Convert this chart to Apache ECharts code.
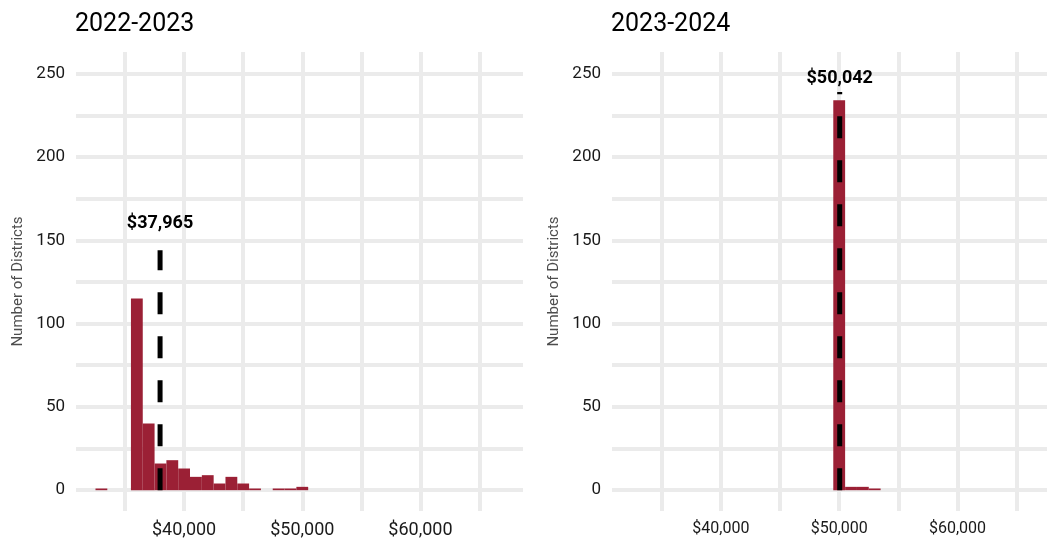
<!DOCTYPE html>
<html><head><meta charset="utf-8">
<script src="https://cdn.jsdelivr.net/npm/echarts@6/dist/echarts.min.js"></script>
<style>html,body{margin:0;padding:0;background:#fff}#c{width:1047px;height:542px}</style>
</head><body><div id="c"></div>
<script>
// ---- data ----
const panelTitles = ['2022-2023', '2023-2024'];
const binWidth = 1000;
const bins2223 = [33000, 34000, 35000, 36000, 37000, 38000, 39000, 40000, 41000, 42000, 43000, 44000, 45000, 46000, 47000, 48000, 49000, 50000];
const counts2223 = [1, 0, 0, 115, 40, 16, 18, 13, 8, 9, 4, 8, 4, 1, 0, 1, 1, 2];
const bins2324 = [50000, 51000, 52000, 53000];
const counts2324 = [234, 2, 2, 1];
const medians = [37965, 50042];
const medianLineTop = [144, 239];
const medianLabelY = [160, 247];
const yGridTicks = [0, 25, 50, 75, 100, 125, 150, 175, 200, 225, 250];
const yLabelTicks = [0, 50, 100, 150, 200, 250];
const xGridTicks = [35000, 40000, 45000, 50000, 55000, 60000, 65000];
const xLabelTicks = [40000, 50000, 60000];
const xRanges = [[30850, 68680], [30800, 67560]];
const yRange = [-12.5, 263];
const yTitle = 'Number of Districts';

// ---- chart ----
const FONT = 'Roboto';
const BAR = '#9b2035';
const GRID = '#ebebeb';
const money = v => '$' + Math.round(v).toLocaleString('en-US');

const chart = echarts.init(document.getElementById('c'), null, {renderer: 'canvas'});

function xAxis(i, fs) {
  return {
    type: 'value', gridIndex: i, min: xRanges[i][0], max: xRanges[i][1],
    axisLine: {show: false},
    axisTick: {show: false, customValues: xGridTicks},
    splitLine: {show: true, lineStyle: {color: GRID, width: 4}},
    axisLabel: {customValues: xLabelTicks, formatter: money, color: '#1a1a1a', fontFamily: FONT, fontSize: fs, margin: 10}
  };
}
function yAxis(i) {
  return {
    type: 'value', gridIndex: i, min: yRange[0], max: yRange[1],
    axisLine: {show: false},
    axisTick: {show: false, customValues: yGridTicks},
    splitLine: {show: true, lineStyle: {color: GRID, width: 4}},
    axisLabel: {customValues: yLabelTicks, color: '#1a1a1a', fontFamily: FONT, fontSize: 17, margin: 11},
    name: yTitle, nameLocation: 'middle', nameGap: 50,
    nameTextStyle: {color: '#4d4d4d', fontFamily: FONT, fontSize: 15}
  };
}
function barSeries(i, bins, counts) {
  return {
    type: 'custom', xAxisIndex: i, yAxisIndex: i, z: 2,
    data: bins.map((b, k) => [b, counts[k]]),
    renderItem: (params, api) => {
      const x = api.value(0), c = api.value(1);
      if (!c) return null;
      const p0 = api.coord([x - binWidth / 2, c]);
      const p1 = api.coord([x + binWidth / 2, 0]);
      return {type: 'rect', shape: {x: p0[0], y: p0[1], width: p1[0] - p0[0], height: p1[1] - p0[1]}, style: {fill: BAR}};
    }
  };
}
function medianLine(i) {
  return {
    type: 'line', xAxisIndex: i, yAxisIndex: i, z: 5, symbol: 'none',
    data: [[medians[i], 0], [medians[i], medianLineTop[i]]],
    lineStyle: {color: '#000', width: 5, type: [22, 22], cap: 'butt'}
  };
}
function medianLabel(i) {
  return {
    type: 'scatter', xAxisIndex: i, yAxisIndex: i, z: 6, symbolSize: 2,
    itemStyle: {color: 'rgba(0,0,0,0)'},
    data: [[medians[i], medianLabelY[i]]],
    label: {show: true, position: 'inside', formatter: p => money(p.value[0]),
      color: '#000000', opacity: 1, textBorderWidth: 0, fontFamily: FONT, fontWeight: 'bold', fontSize: 18}
  };
}

chart.setOption({
  animation: false,
  backgroundColor: '#fff',
  title: [
    {text: panelTitles[0], left: 75, top: 12, padding: 0, textStyle: {fontFamily: FONT, fontSize: 25, fontWeight: 'normal', color: '#000'}},
    {text: panelTitles[1], left: 611, top: 12, padding: 0, textStyle: {fontFamily: FONT, fontSize: 25, fontWeight: 'normal', color: '#000'}}
  ],
  grid: [
    {left: 76, top: 52, width: 447, height: 459},
    {left: 612, top: 52, right: 0, height: 459}
  ],
  xAxis: [xAxis(0, 18), xAxis(1, 16)],
  yAxis: [yAxis(0), yAxis(1)],
  series: [
    barSeries(0, bins2223, counts2223),
    barSeries(1, bins2324, counts2324),
    medianLine(0), medianLine(1),
    medianLabel(0), medianLabel(1)
  ]
});
</script></body></html>
